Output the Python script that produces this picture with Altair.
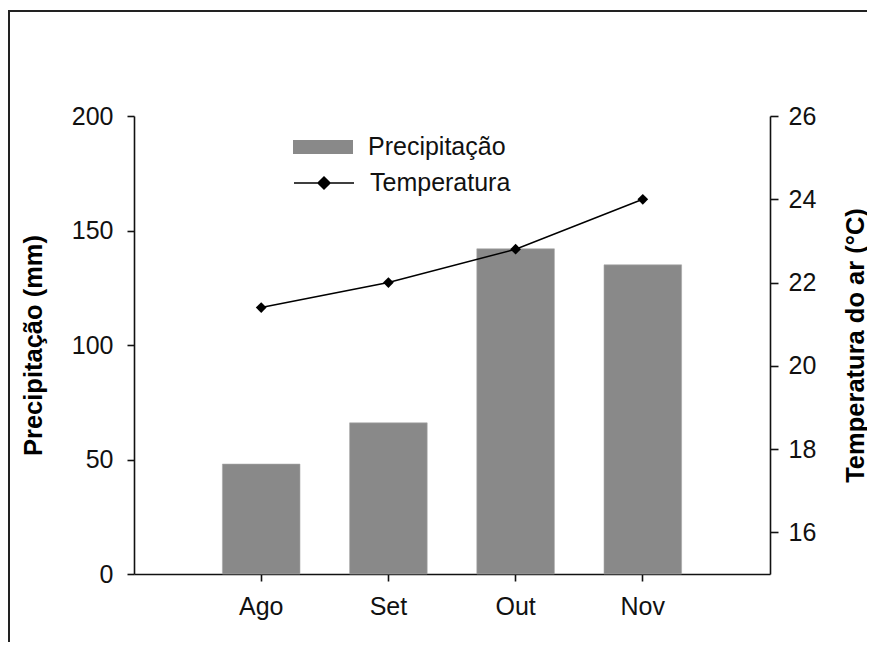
import altair as alt
import pandas as pd

meses = ["Ago", "Set", "Out", "Nov"]
precipitacao = [48, 66, 142, 135]
temperatura = [21.4, 22.0, 22.8, 24.0]

df = pd.DataFrame({
    "mes": meses,
    "prec": precipitacao,
    "temp": temperatura,
    "sp": ["Precipitação"] * len(meses),
    "st": ["Temperatura"] * len(meses),
})

FONT = "Liberation Sans"

xenc = alt.X(
    "mes:N", sort=meses,
    scale=alt.Scale(paddingInner=0.39, paddingOuter=0.695),
    axis=alt.Axis(title=None, labelAngle=0, tickSize=7, labelPadding=13,
                  labelFontSize=25),
)

base = alt.Chart(df)

bars = base.mark_bar(stroke="#a8a8a8", strokeWidth=0.6).encode(
    x=xenc,
    y=alt.Y(
        "prec:Q",
        scale=alt.Scale(domain=[0, 200], nice=False),
        axis=alt.Axis(
            values=[0, 50, 100, 150, 200], grid=False, tickSize=7,
            labelPadding=14, labelFontSize=25,
            title="Precipitação (mm)", titleFontSize=25.5, titleFontWeight="bold",
            titleAngle=270, titleX=-101, titleY=229, titleAlign="center",
            titleBaseline="middle",
        ),
    ),
    fill=alt.Fill(
        "sp:N",
        scale=alt.Scale(domain=["Precipitação"], range=["#898989"]),
        legend=alt.Legend(
            title=None, orient="none", legendX=159, legendY=1,
            symbolType="M-1,-0.233H1V0.233H-1Z", symbolSize=3600,
            symbolStrokeWidth=0, labelFontSize=25, labelOffset=15,
            padding=0,
        ),
    ),
)

tenc = alt.Y(
    "temp:Q",
    scale=alt.Scale(domain=[15, 26], nice=False, zero=False),
    axis=alt.Axis(
        orient="right", values=[16, 18, 20, 22, 24, 26], grid=False,
        tickSize=8, labelPadding=10, labelFontSize=25,
        title="Temperatura do ar (°C)", titleFontSize=25.5, titleFontWeight="bold",
        titleAngle=270, titleX=85, titleY=229, titleAlign="center",
        titleBaseline="middle",
    ),
)

line = base.mark_line(strokeWidth=1.5).encode(
    x=xenc,
    y=tenc,
    stroke=alt.Stroke(
        "st:N",
        scale=alt.Scale(domain=["Temperatura"], range=["black"]),
        legend=alt.Legend(
            title=None, orient="none", legendX=159, legendY=36,
            symbolType="M-1,0L1,0M0,-0.2L0.2,0L0,0.2L-0.2,0Z", symbolSize=3600,
            symbolStrokeWidth=1.5, symbolFillColor="black",
            labelFontSize=25, labelOffset=15, padding=0,
        ),
    ),
)

points = base.mark_point(shape="diamond", filled=True, size=115, color="black",
                         opacity=1).encode(x=xenc, y=tenc)

temp_layer = alt.layer(line, points)

frame = alt.Chart(alt.Data(values=[{"a": 1}])).mark_rect(
    fill=None, stroke="#222222", strokeWidth=2
).encode(
    x=alt.value(-125), x2=alt.value(800),
    y=alt.value(-105), y2=alt.value(620),
)

chart = alt.layer(frame, bars, temp_layer).resolve_scale(
    y="independent", fill="independent", stroke="independent"
).properties(
    width=636, height=458,
    autosize=alt.AutoSizeParams(type="none"),
    padding={"left": 126, "top": 108, "right": 97, "bottom": 68},
).configure_view(stroke=None).configure_axis(
    domainColor="#111111", domainWidth=1.6, tickColor="#111111", tickWidth=1.6,
    labelColor="#111111", titleColor="#000000", labelFont=FONT, titleFont=FONT,
).configure_legend(labelFont=FONT, labelColor="#111111")

chart.save("out.html", embed_options={"renderer": "svg", "actions": False})
